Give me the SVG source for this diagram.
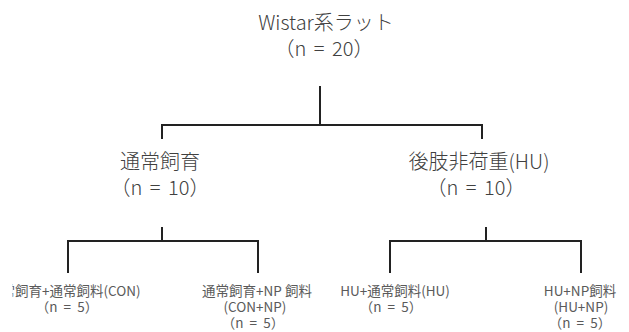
<svg xmlns="http://www.w3.org/2000/svg" width="629" height="332" viewBox="0 0 629 332">
<style>
text{font-family:"Noto Sans CJK JP","Noto Sans",sans-serif;fill:#404040;text-anchor:middle;font-weight:300}
.big{font-size:20px}
.n{word-spacing:3px}
.sm{font-size:13.5px;fill:#5a5a5a;font-weight:400}
.ln{stroke:#222;stroke-width:2;fill:none}
</style>
<defs><clipPath id="cut"><rect x="12.5" y="0" width="620" height="332"/></clipPath></defs>
<rect width="629" height="332" fill="#fff"/>
<g id="connectors">
<path class="ln" d="M320 86V125M162 139V125H482V139"/>
<path class="ln" d="M162 227V241M68 273V241H258V273"/>
<path class="ln" d="M486 227V241M390 273V241H581V273"/>
</g>
<g id="root"><text class="big" x="326" y="30">Wistar系ラット</text><text class="big n" x="324" y="56">（n = 20）</text></g>
<g id="con"><text class="big" x="160" y="169">通常飼育</text><text class="big n" x="160" y="195">（n = 10）</text></g>
<g id="hu"><text class="big" x="479" y="169">後肢非荷重(HU)</text><text class="big n" x="476" y="195">（n = 10）</text></g>
<g id="con-con"><text class="sm" x="-12" y="296" style="text-anchor:start" clip-path="url(#cut)">通常飼育+通常飼料(CON)</text><text class="sm n" x="67" y="312">（n = 5）</text></g>
<g id="con-np"><text class="sm" x="257" y="296">通常飼育+NP 飼料</text><text class="sm" x="255" y="312">(CON+NP)</text><text class="sm n" x="253" y="328">（n = 5）</text></g>
<g id="hu-con"><text class="sm" x="395" y="296">HU+通常飼料(HU)</text><text class="sm n" x="391" y="312">（n = 5）</text></g>
<g id="hu-np"><text class="sm" x="580" y="296">HU+NP飼料</text><text class="sm" x="581" y="312">(HU+NP)</text><text class="sm n" x="580" y="328">（n = 5）</text></g>
</svg>
